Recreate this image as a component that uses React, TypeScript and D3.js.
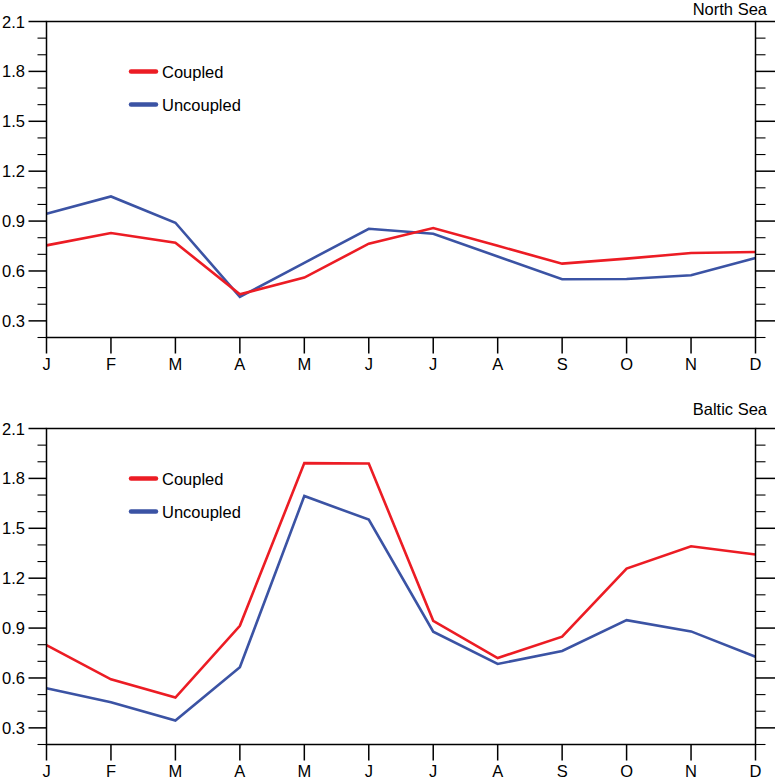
import * as d3 from "d3";
import { useEffect, useRef } from "react";

const months = ["J", "F", "M", "A", "M", "J", "J", "A", "S", "O", "N", "D"];

const northCoupled = [0.754, 0.828, 0.77, 0.46, 0.56, 0.764, 0.858, 0.751, 0.644, 0.674, 0.708, 0.714];
const northUncoupled = [0.944, 1.048, 0.89, 0.444, 0.649, 0.854, 0.824, 0.687, 0.55, 0.552, 0.574, 0.678];

const balticCoupled = [0.798, 0.592, 0.482, 0.914, 1.892, 1.89, 0.944, 0.72, 0.848, 1.258, 1.392, 1.342];
const balticUncoupled = [0.538, 0.454, 0.344, 0.664, 1.694, 1.552, 0.878, 0.684, 0.762, 0.948, 0.88, 0.728];

const majorTicks = [0.3, 0.6, 0.9, 1.2, 1.5, 1.8, 2.1];
const minorTicks = [0.2, 0.4, 0.5, 0.7, 0.8, 1.0, 1.1, 1.3, 1.4, 1.6, 1.7, 1.9, 2.0];
const seriesNames = ["Coupled", "Uncoupled"];

const panels = [
  { title: "North Sea", coupled: northCoupled, uncoupled: northUncoupled, top: 21.5, titleY: 14.5 },
  { title: "Baltic Sea", coupled: balticCoupled, uncoupled: balticUncoupled, top: 428.5, titleY: 415 },
];

const RED = "#ec1c24";
const BLUE = "#3b53a4";

export default function App() {
  const ref = useRef<SVGSVGElement>(null);

  useEffect(() => {
    if (!ref.current) return;
    const svg = d3.select(ref.current);
    svg.selectAll("*").remove();

    const W = 775;
    const H = 779;
    const left = 46.5;
    const right = 755.5;
    const ph = 316;
    const fs = 16.5;
    const font = "'Liberation Sans', Arial, Helvetica, sans-serif";

    svg.attr("width", W).attr("height", H).attr("viewBox", `0 0 ${W} ${H}`);

    const x = d3.scalePoint<number>().domain(d3.range(12)).range([left, right]);

    panels.forEach(p => {
      const g = svg.append("g");
      const y = d3.scaleLinear().domain([0.2, 2.1]).range([p.top + ph, p.top]);

      // data lines
      const line = d3
        .line<number>()
        .x((_, i) => x(i)!)
        .y(d => y(d));

      g.append("path")
        .datum(p.uncoupled)
        .attr("d", line)
        .attr("fill", "none")
        .attr("stroke", BLUE)
        .attr("stroke-width", 2.6);

      g.append("path")
        .datum(p.coupled)
        .attr("d", line)
        .attr("fill", "none")
        .attr("stroke", RED)
        .attr("stroke-width", 2.6);

      // frame
      g.append("rect")
        .attr("x", left)
        .attr("y", p.top)
        .attr("width", right - left)
        .attr("height", ph)
        .attr("fill", "none")
        .attr("stroke", "#000")
        .attr("stroke-width", 1.5);

      // left/right ticks
      const allY = [...majorTicks.map(v => ({ v, major: true })), ...minorTicks.map(v => ({ v, major: false }))];
      g.selectAll(".ltick")
        .data(allY)
        .join("line")
        .attr("x1", d => left - (d.major ? 18 : 9))
        .attr("x2", left)
        .attr("y1", d => y(d.v))
        .attr("y2", d => y(d.v))
        .attr("stroke", "#000")
        .attr("stroke-width", d => (d.major ? 1.5 : 1.1));

      g.selectAll(".rtick")
        .data(allY)
        .join("line")
        .attr("x1", right)
        .attr("x2", d => right + (d.major ? 20 : 10))
        .attr("y1", d => y(d.v))
        .attr("y2", d => y(d.v))
        .attr("stroke", "#000")
        .attr("stroke-width", d => (d.major ? 1.5 : 1.1));

      g.selectAll(".ylab")
        .data(majorTicks)
        .join("text")
        .attr("x", 25)
        .attr("y", d => y(d) + 6)
        .attr("text-anchor", "end")
        .attr("font-family", font)
        .attr("font-size", fs)
        .attr("fill", "#000")
        .text(d => d.toFixed(1));

      // bottom ticks
      g.selectAll(".xtick")
        .data(d3.range(12))
        .join("line")
        .attr("x1", d => x(d)!)
        .attr("x2", d => x(d)!)
        .attr("y1", p.top + ph)
        .attr("y2", p.top + ph + 16)
        .attr("stroke", "#000")
        .attr("stroke-width", 1.5);

      g.selectAll(".xlab")
        .data(months)
        .join("text")
        .attr("x", (_, i) => x(i)!)
        .attr("y", p.top + ph + 32.5)
        .attr("text-anchor", "middle")
        .attr("font-family", font)
        .attr("font-size", fs)
        .attr("fill", "#000")
        .text(d => d);

      // title
      g.append("text")
        .attr("x", 767)
        .attr("y", p.titleY)
        .attr("text-anchor", "end")
        .attr("font-family", font)
        .attr("font-size", fs)
        .attr("fill", "#000")
        .text(p.title);

      // legend
      const leg = g
        .selectAll(".leg")
        .data(seriesNames)
        .join("g")
        .attr("transform", (_, i) => `translate(0,${p.top + 50 + i * 33})`);
      leg
        .append("line")
        .attr("x1", 131)
        .attr("x2", 156)
        .attr("y1", 0)
        .attr("y2", 0)
        .attr("stroke", (_, i) => (i === 0 ? RED : BLUE))
        .attr("stroke-width", 4.5)
        .attr("stroke-linecap", "round");
      leg
        .append("text")
        .attr("x", 162)
        .attr("y", 6)
        .attr("font-family", font)
        .attr("font-size", fs)
        .attr("fill", "#000")
        .text(d => d);
    });
  }, []);

  return (
    <div style={{ position: "absolute", left: 0, top: 0, background: "#fff" }}>
      <svg ref={ref} style={{ display: "block" }} />
    </div>
  );
}
